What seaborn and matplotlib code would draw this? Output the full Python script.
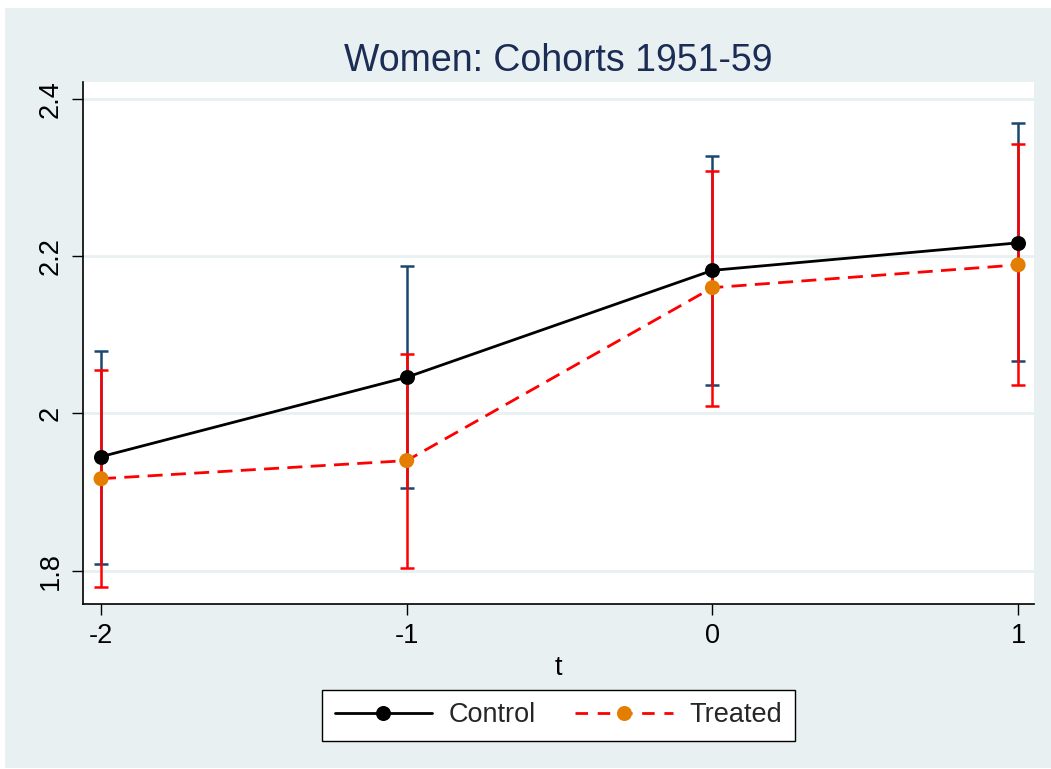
import numpy as np
import pandas as pd
import matplotlib
matplotlib.use("Agg")
import matplotlib.pyplot as plt
from matplotlib.patches import Rectangle
from matplotlib.lines import Line2D
import seaborn as sns

# ---- data ----
t_vals = [-2, -1, 0, 1]
control_mean = [1.945, 2.046, 2.182, 2.217]
control_lo = [1.808, 1.905, 2.036, 2.067]
control_hi = [2.080, 2.187, 2.328, 2.369]
treated_mean = [1.917, 1.940, 2.160, 2.189]
treated_lo = [1.779, 1.803, 2.010, 2.036]
treated_hi = [2.055, 2.076, 2.308, 2.343]
y_ticks = [1.8, 2.0, 2.2, 2.4]
y_tick_labels = ["1.8", "2", "2.2", "2.4"]
x_ticks = [-2, -1, 0, 1]
x_tick_labels = ["-2", "-1", "0", "1"]
title = "Women: Cohorts 1951-59"

BG = "#E8F0F2"
NAVY = "#1A476F"
RED = "#FF0000"
ORANGE = "#E37E00"
TITLE_C = "#1C2D55"

sns.set_theme(style="white")
plt.rcParams['font.family'] = ['Liberation Sans', 'DejaVu Sans']

df = pd.DataFrame({
    "t": t_vals * 2,
    "mean": control_mean + treated_mean,
    "group": ["Control"] * 4 + ["Treated"] * 4,
})

fig = plt.figure(figsize=(10.51, 7.69), dpi=100, facecolor="white")
fig.patches.append(Rectangle((5 / 1051, 1 / 769), 1 - 5 / 1051, (769 - 9) / 769,
                             transform=fig.transFigure, facecolor=BG,
                             edgecolor="none", zorder=-10))
ax = fig.add_axes([83 / 1051, 1 - 604 / 769, (1034 - 83) / 1051, (604 - 82) / 769])
ax.set_facecolor("white")

# gridlines
for y in y_ticks:
    ax.axhline(y, color=BG, lw=2.0, zorder=0)

# error bars
c_mean = np.array(control_mean)
t_mean = np.array(treated_mean)
ax.errorbar(t_vals, c_mean, yerr=[c_mean - np.array(control_lo), np.array(control_hi) - c_mean],
            fmt="none", ecolor=NAVY, elinewidth=1.8, capsize=5, capthick=1.8, zorder=2)
ax.errorbar(t_vals, t_mean, yerr=[t_mean - np.array(treated_lo), np.array(treated_hi) - t_mean],
            fmt="none", ecolor=RED, elinewidth=1.8, capsize=5, capthick=1.8, zorder=3)

# lines via seaborn
sns.lineplot(data=df[df.group == "Control"], x="t", y="mean", ax=ax, color="black",
             lw=2.0, marker="o", markersize=10.8, markeredgewidth=0,
             markerfacecolor="black", zorder=4, legend=False)
sns.lineplot(data=df[df.group == "Treated"], x="t", y="mean", ax=ax, color=RED,
             lw=2.0, zorder=4, legend=False, dashes=False)
ax.lines[-1].set_dashes([5.4, 3.0])
sns.scatterplot(data=df[df.group == "Treated"], x="t", y="mean", ax=ax, color=ORANGE,
                s=117, edgecolor="none", zorder=5, legend=False)

ax.set_xlim(-2.059, 1.052)
ax.set_ylim(1.7576, 2.4216)
ax.set_xticks(x_ticks)
ax.set_xticklabels(x_tick_labels)
ax.set_yticks(y_ticks)
ax.set_yticklabels(y_tick_labels, rotation=90, va="center")
ax.tick_params(axis="both", direction="out", length=8, width=1.0, color="black",
               labelsize=19.5, labelcolor="black", pad=6, left=True, bottom=True)
for s in ["top", "right"]:
    ax.spines[s].set_visible(False)
for s in ["left", "bottom"]:
    ax.spines[s].set_color("black")
    ax.spines[s].set_linewidth(1.2)
ax.grid(False)
ax.set_xlabel("t", fontsize=19.5, color="black", labelpad=4)
ax.set_ylabel("")
ax.set_title(title, fontsize=27, color=TITLE_C, pad=8)

handles = [
    Line2D([0], [0], color="black", lw=2.0, marker="o", markersize=10.8,
           markerfacecolor="black", markeredgewidth=0),
    Line2D([0], [0], color=RED, lw=2.0, linestyle=(0, (4.5, 3.5)), marker="o",
           markersize=10.8, markerfacecolor=ORANGE, markeredgewidth=0),
]
leg = fig.legend(handles, ["Control", "Treated"], loc="center",
                 bbox_to_anchor=(558.5 / 1051, 1 - 715.5 / 769), ncol=2,
                 fontsize=19.5, frameon=True, fancybox=False, handlelength=3.6,
                 columnspacing=1.45, handletextpad=0.62, borderpad=0.45)
leg.get_frame().set_edgecolor("black")
leg.get_frame().set_linewidth(1.0)
leg.get_frame().set_facecolor("white")
leg.get_frame().set_alpha(1)

fig.savefig("out.png", dpi=100, facecolor=fig.get_facecolor())
